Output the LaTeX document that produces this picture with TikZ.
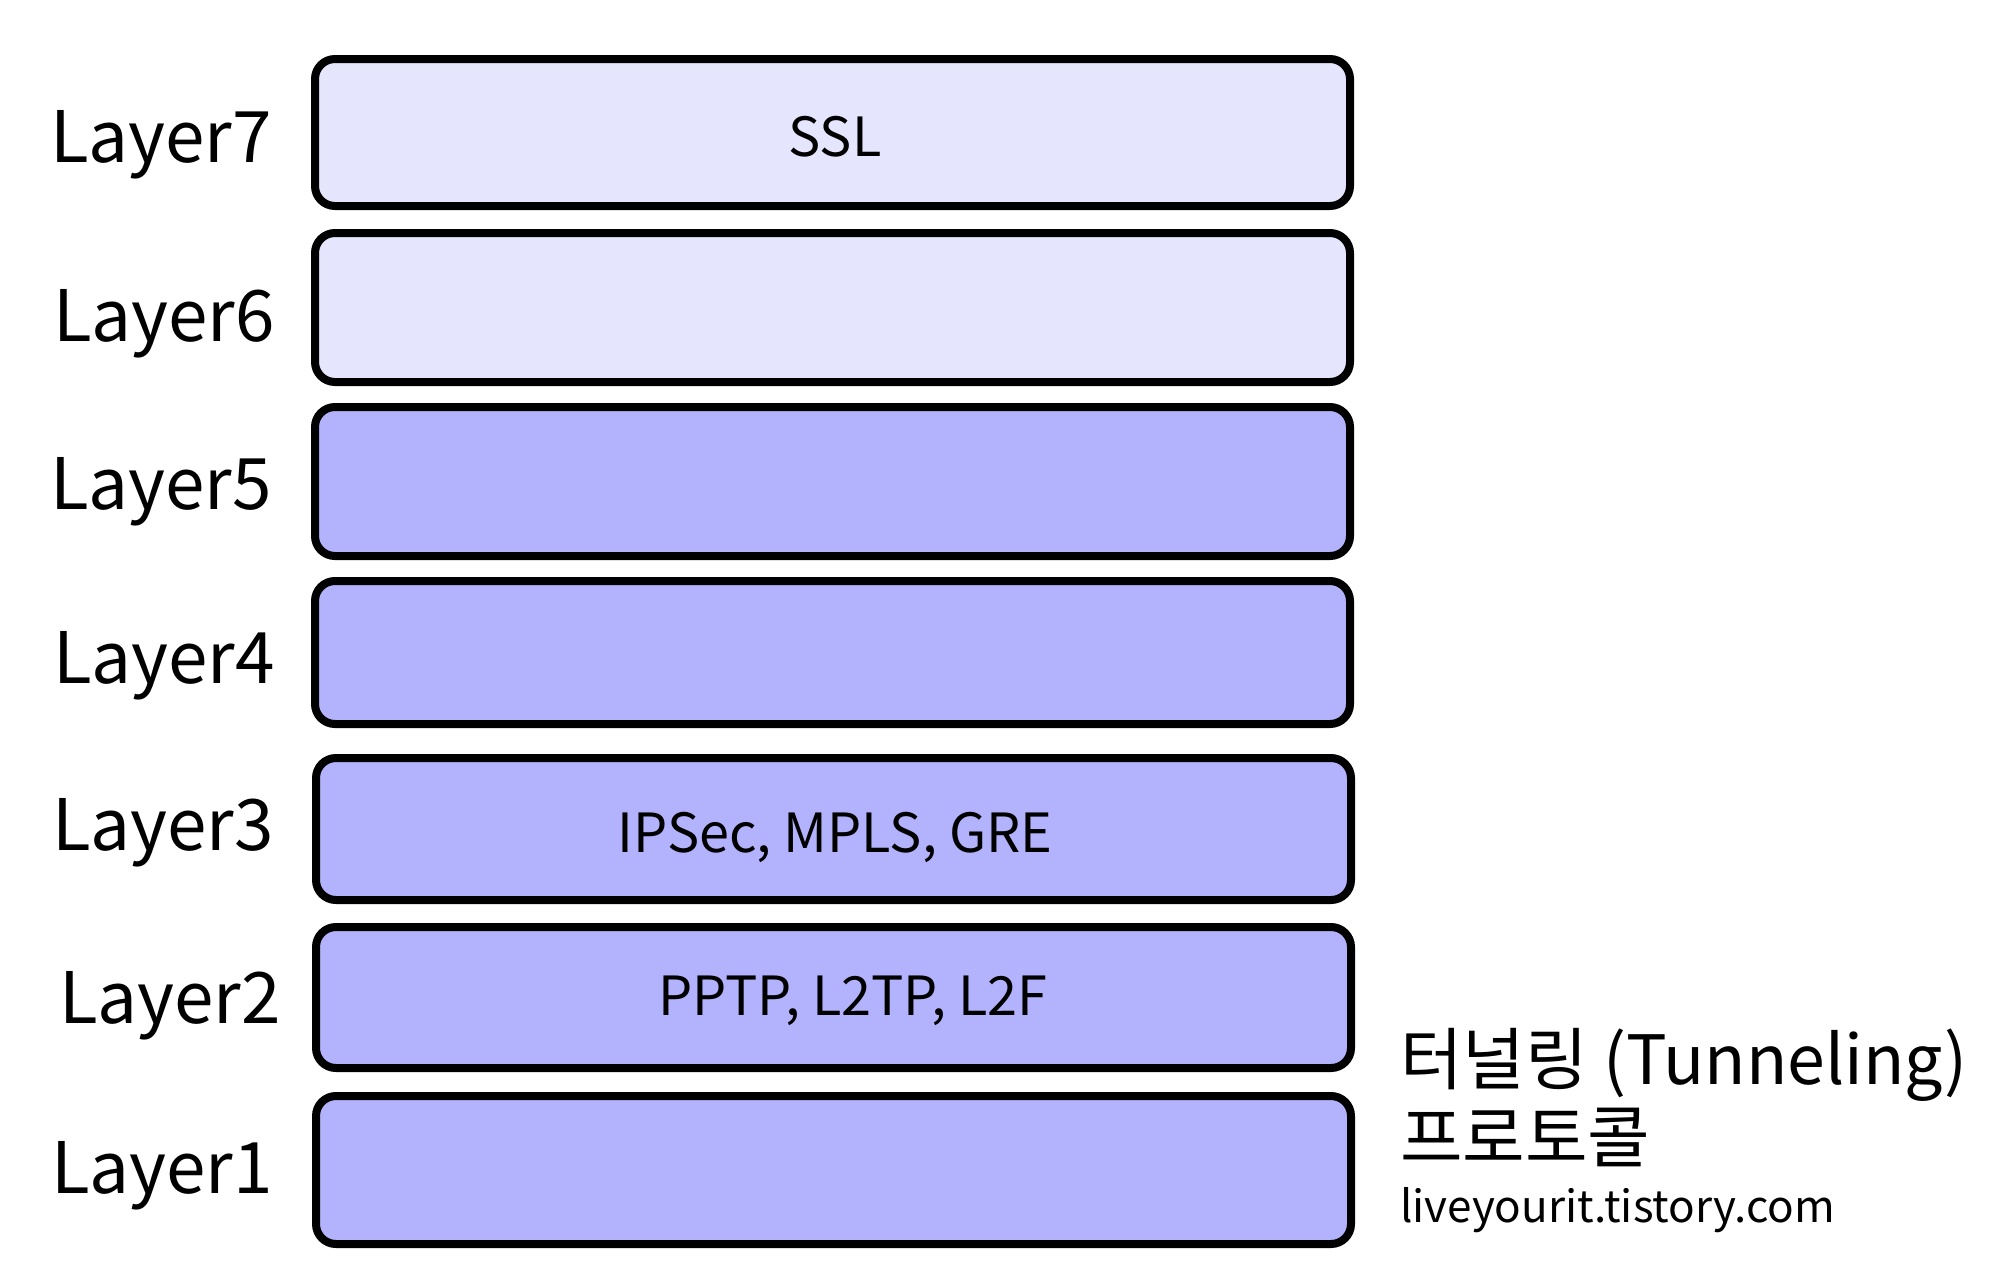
\documentclass[tikz,border=0pt]{standalone}
\usepackage{fontspec}
\setmainfont{Noto Sans CJK KR}
\definecolor{lightlav}{HTML}{E5E5FD}
\definecolor{midlav}{HTML}{B3B3FD}
\tikzset{
  layerbox/.style={draw=black, line width=8pt, rounded corners=20pt, inner sep=0pt, outer sep=0pt, minimum width=1035pt},
  layerlabel/.style={anchor=base, inner sep=0pt, font=\fontsize{71}{80}\selectfont},
  prototext/.style={anchor=base, inner sep=0pt, font=\fontsize{54}{60}\selectfont},
  titletext/.style={anchor=base west, inner sep=0pt, font=\fontsize{68}{76}\selectfont},
  srctext/.style={anchor=base west, inner sep=0pt, font=\fontsize{44}{50}\selectfont}
}
\begin{document}
\begin{tikzpicture}[x=1pt, y=-1pt]
\useasboundingbox (0,0) rectangle (2000,1280);
\fill[white] (0,0) rectangle (2000,1280);
% boxes
\node[layerbox, fill=lightlav, minimum height=147pt] (b7) at (832.5,132.5) {};
\node[layerbox, fill=lightlav, minimum height=149pt] (b6) at (832.5,307.5) {};
\node[layerbox, fill=midlav, minimum height=149pt] (b5) at (832.5,481.5) {};
\node[layerbox, fill=midlav, minimum height=143pt] (b4) at (832.5,652.5) {};
\node[layerbox, fill=midlav, minimum height=142pt] (b3) at (833.5,829) {};
\node[layerbox, fill=midlav, minimum height=141pt] (b2) at (833.5,997.5) {};
\node[layerbox, fill=midlav, minimum height=148pt] (b1) at (833.5,1170) {};
% protocol texts
\node[prototext] (t7) at (835,156) {SSL};
\node[prototext] (t3) at (835,852) {IPSec, MPLS, GRE};
\node[prototext] (t2) at (853,1015) {PPTP, L2TP, L2F};
% layer labels
\node[layerlabel] (l7) at (161,162) {Layer7};
\node[layerlabel] (l6) at (164,341) {Layer6};
\node[layerlabel] (l5) at (161,509) {Layer5};
\node[layerlabel] (l4) at (164,683) {Layer4};
\node[layerlabel] (l3) at (163,850) {Layer3};
\node[layerlabel] (l2) at (170,1023) {Layer2};
\node[layerlabel] (l1) at (162,1193) {Layer1};
% caption
\node[titletext] (tt1) at (1400,1084) {터널링 (Tunneling)};
\node[titletext] (tt2) at (1400,1162) {프로토콜};
\node[srctext] (src) at (1400,1222) {liveyourit.tistory.com};
\end{tikzpicture}
\end{document}
